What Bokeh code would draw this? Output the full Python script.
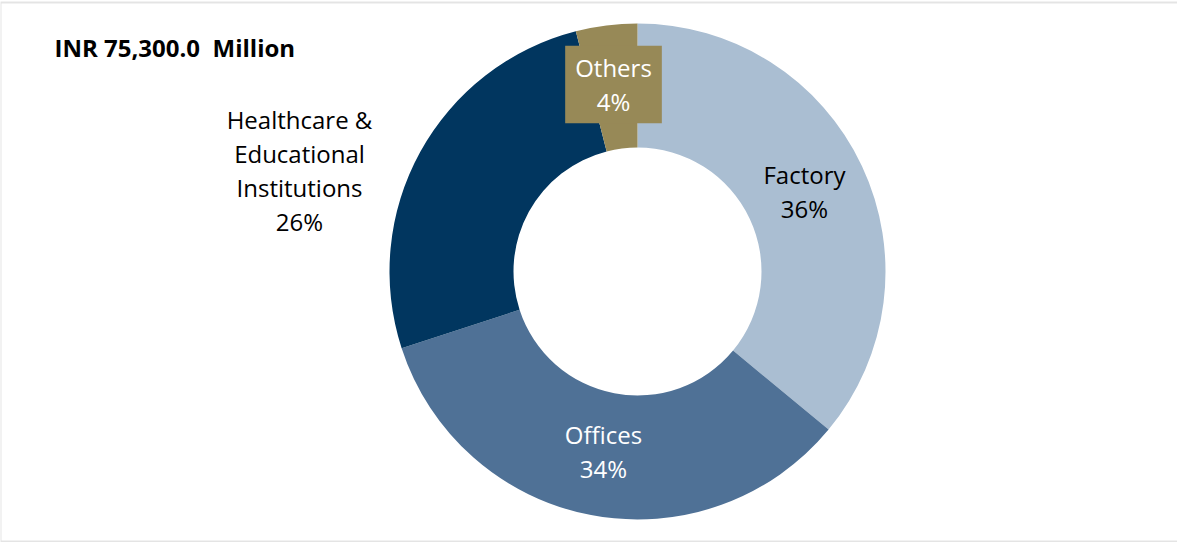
import numpy as np
from bokeh.plotting import figure
from bokeh.models import Range1d, Label, BoxAnnotation
from bokeh.embed import file_html
from bokeh.resources import INLINE

# ---- data ----
categories = ["Factory", "Offices", "Healthcare &\nEducational\nInstitutions", "Others"]
shares = [36, 34, 26, 4]
colors = ["#AABED2", "#4F7196", "#01365F", "#978957"]
title_text = "INR 75,300.0\u00a0\u00a0Million"

W, H = 1177, 542
p = figure(width=W, height=H, output_backend="svg", toolbar_location=None,
           x_range=Range1d(0, W), y_range=Range1d(0, H), min_border=0)
p.axis.visible = False
p.grid.visible = False
p.outline_line_color = None
p.background_fill_color = "white"

cx, cy = 637, 271
r_out, r_in = 248, 124

vals = np.array(shares, dtype=float)
frac = vals / vals.sum()
cum = np.concatenate([[0], np.cumsum(frac)])
start = np.pi / 2 - cum[:-1] * 2 * np.pi
end = np.pi / 2 - cum[1:] * 2 * np.pi

p.annular_wedge(x=[cx] * len(vals), y=[cy] * len(vals), inner_radius=r_in, outer_radius=r_out,
                start_angle=list(start), end_angle=list(end), direction="clock",
                fill_color=colors, line_color=None)

FONT = "Open Sans"
FS = "24px"
LH = 1.04

def lab(x, y, text, color, bg=None, pad=0):
    kw = {}
    if bg is not None:
        kw = dict(background_fill_color=bg, padding=pad)
    p.add_layout(Label(x=x, y=y, text=text, text_font=FONT, text_font_size=FS,
                       text_color=color, text_align="center", text_baseline="middle",
                       text_line_height=LH, **kw))

pct = [f"{int(s)}%" for s in shares]
lab(804, 351, f"{categories[0]}\n{pct[0]}", "#000000")
lab(603, 91, f"{categories[1]}\n{pct[1]}", "#FFFFFF")
lab(299, 372, f"{categories[2]}\n{pct[2]}", "#000000")
lab(613, 458, f"{categories[3]}\n{pct[3]}", "#FFFFFF", bg=colors[3], pad=(10, 10, 5, 5))

p.add_layout(Label(x=54, y=495, text=title_text, text_font=FONT, text_font_size="24px",
                   text_font_style="bold", text_color="#000000", text_baseline="middle"))

# frame (right side falls outside the canvas, as in the reference)
p.add_layout(BoxAnnotation(left=0, right=1300, top=1, bottom=H - 2,
                           left_units="screen", right_units="screen",
                           top_units="screen", bottom_units="screen",
                           fill_color=None, line_color="#A6A6A6", line_width=2))

open("out.html", "w").write(file_html(p, INLINE))
